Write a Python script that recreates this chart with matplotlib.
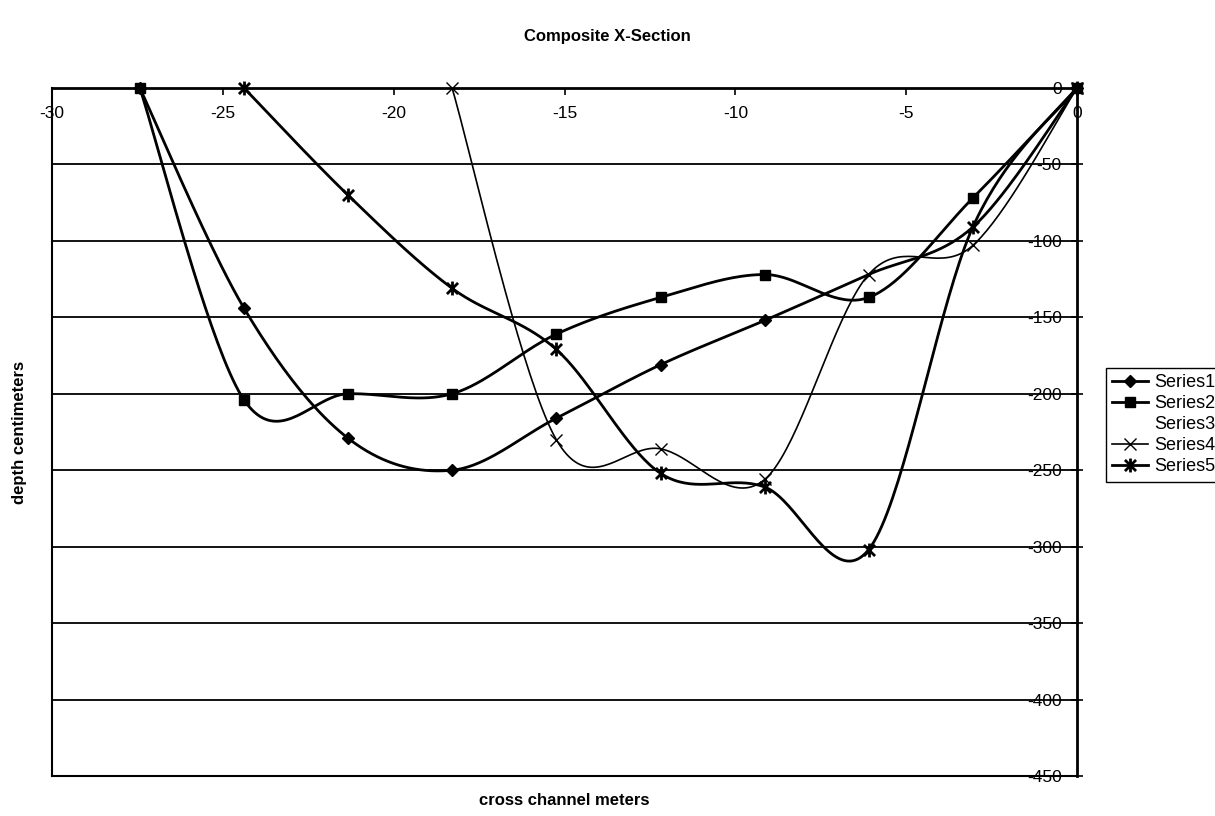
import numpy as np
import matplotlib
matplotlib.use("Agg")
import matplotlib.pyplot as plt
from matplotlib.lines import Line2D
from matplotlib.path import Path

plt.rcParams['font.family'] = ['Liberation Sans', 'DejaVu Sans']
plt.rcParams['axes.unicode_minus'] = False

# ---- data (cross channel metres, depth centimetres) ----
x_m = [-27.43, -24.38, -21.34, -18.29, -15.24, -12.19, -9.14, -6.10, -3.05, 0.0]
series1 = [0, -144, -229, -250, -216, -181, -152, -122, -91, 0]
series2 = [0, -204, -200, -200, -161, -137, -122, -137, -72, 0]
series3 = [np.nan] * 10
series4 = [np.nan, np.nan, np.nan, 0, -230, -236, -256, -122, -103, 0]
series5 = [np.nan, 0, -70, -131, -171, -252, -261, -302, -91, 0]
series_names = ["Series1", "Series2", "Series3", "Series4", "Series5"]
x_ticks = [-30, -25, -20, -15, -10, -5, 0]
y_ticks = [0, -50, -100, -150, -200, -250, -300, -350, -400, -450]


def smooth(xs, ys, n=40):
    """Excel-style smoothed line: Catmull-Rom via cubic Bezier (1/6 tension)."""
    xs = np.asarray(xs, float)
    ys = np.asarray(ys, float)
    m = ~np.isnan(ys)
    P = np.column_stack([xs[m], ys[m]])
    k = len(P)
    if k < 2:
        return np.array([]), np.array([])
    out = []
    t = np.linspace(0, 1, n)[:, None]
    for i in range(k - 1):
        p0 = P[i]
        p3 = P[i + 1]
        pm = P[i - 1] if i > 0 else P[i]
        pp = P[i + 2] if i + 2 < k else P[i + 1]
        c1 = p0 + (p3 - pm) / 6.0
        c2 = p3 - (pp - p0) / 6.0
        seg = ((1 - t) ** 3) * p0 + 3 * ((1 - t) ** 2) * t * c1 + 3 * (1 - t) * t ** 2 * c2 + t ** 3 * p3
        out.append(seg if i == 0 else seg[1:])
    out = np.vstack(out)
    return out[:, 0], out[:, 1]


# Excel-like asterisk "star" marker: vertical bar + X
star = Path([(0, -1), (0, 1), (-0.8, -0.8), (0.8, 0.8), (-0.8, 0.8), (0.8, -0.8)],
            [Path.MOVETO, Path.LINETO, Path.MOVETO, Path.LINETO, Path.MOVETO, Path.LINETO])

W, H = 1215, 816
fig = plt.figure(figsize=(W / 100, H / 100), dpi=100)
L, R, T, B = 52, 1077, 88, 776
ax = fig.add_axes([L / W, 1 - B / H, (R - L) / W, (B - T) / H])

ax.set_xlim(-30, 0)
ax.set_ylim(-450, 0)

styles = [
    dict(marker='D', ms=6.5, lw=2.0, mew=1, mfc='black'),
    dict(marker='s', ms=7.5, lw=2.0, mew=1, mfc='black'),
    dict(marker='none', lw=0),
    dict(marker='x', ms=9, lw=1.2, mew=1.0, mfc='none'),
    dict(marker=star, ms=10, lw=2.0, mew=2.0, mfc='none'),
]
data = [series1, series2, series3, series4, series5]
marker_idx = [[0, 1, 2, 3, 4, 5, 6, 9], None, None, None, None]

handles = []
for name, ys, st, mi in zip(series_names, data, styles, marker_idx):
    ys_arr = np.asarray(ys, float)
    if not np.all(np.isnan(ys_arr)):
        sx, sy = smooth(x_m, ys_arr)
        ax.plot(sx, sy, color='black', lw=st['lw'], zorder=3, clip_on=False,
                solid_joinstyle='round')
        xs_arr = np.asarray(x_m, float)
        sel = ~np.isnan(ys_arr)
        if mi is not None:
            idx = np.zeros(len(ys_arr), bool)
            idx[mi] = True
            sel &= idx
        ax.plot(xs_arr[sel], ys_arr[sel], linestyle='none', marker=st['marker'],
                ms=st['ms'], mew=st['mew'], mec='black', mfc=st['mfc'],
                zorder=4, clip_on=False)
        handles.append(Line2D([], [], color='black', lw=st['lw'], marker=st['marker'],
                              ms=st['ms'], mew=st['mew'], mec='black', mfc=st['mfc']))
    else:
        handles.append(Line2D([], [], linestyle='none', marker='none'))

# axes: x-axis along the top (y=0), y-axis along the right (x=0)
ax.xaxis.tick_top()
ax.yaxis.tick_right()
ax.set_xticks(x_ticks)
ax.set_xticklabels([str(v) for v in x_ticks])
ax.set_yticks(y_ticks)
ax.set_yticklabels([str(v) for v in y_ticks])
ax.tick_params(axis='x', direction='in', length=5, width=1.2, pad=-13, labelsize=12.5)
ax.tick_params(axis='y', direction='inout', length=8, width=1.2, pad=-15, labelsize=12.5)
for lab in ax.get_xticklabels():
    lab.set_verticalalignment('top')
for lab in ax.get_yticklabels():
    lab.set_horizontalalignment('right')

ax.grid(axis='y', color='black', lw=1.3)
ax.set_axisbelow(True)
for side in ['top', 'right']:
    ax.spines[side].set_linewidth(2.0)
for side in ['left', 'bottom']:
    ax.spines[side].set_linewidth(1.5)

ax.yaxis.set_label_position('left')
ax.set_ylabel('depth centimeters', fontsize=12, fontweight='bold', labelpad=18)
ax.xaxis.set_label_position('bottom')
ax.set_xlabel('cross channel meters', fontsize=12, fontweight='bold', labelpad=12)

fig.suptitle('Composite X-Section', x=0.5, y=1 - 37 / H, va='center',
             fontsize=12, fontweight='bold')

leg = fig.legend(handles, series_names, loc='upper left',
                 bbox_to_anchor=(1106 / W, 1 - 368 / H), borderaxespad=0,
                 frameon=True, fancybox=False, edgecolor='black', framealpha=1,
                 fontsize=13, handlelength=2.0, handletextpad=0.3,
                 borderpad=0.35, labelspacing=0.22)
leg.get_frame().set_linewidth(1.0)

fig.savefig('out.png', dpi=100)
